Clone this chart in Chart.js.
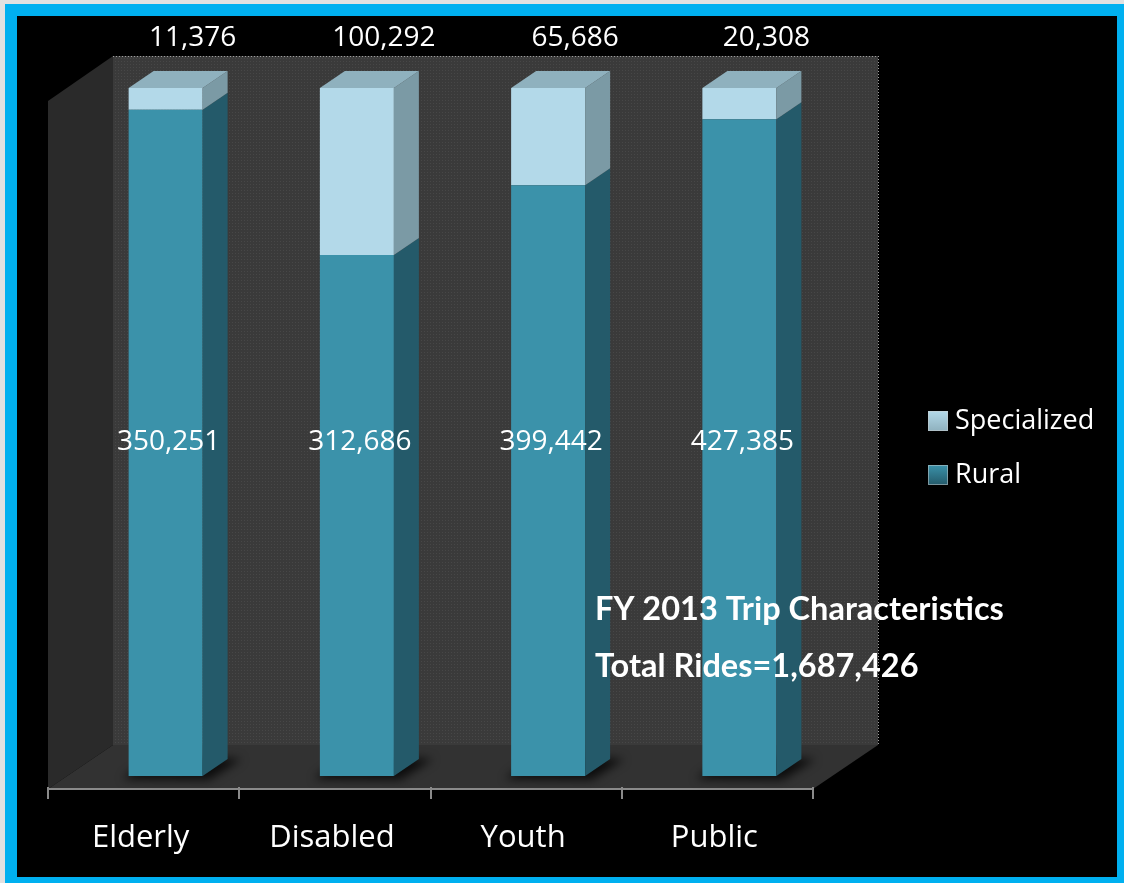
<!DOCTYPE html>
<html><head><meta charset="utf-8">
<script src="https://cdn.jsdelivr.net/npm/chart.js@4.4.1/dist/chart.umd.min.js"></script>
<style>html,body{margin:0;padding:0;background:#e1e1e1;overflow:hidden}canvas{display:block}</style>
</head><body>
<canvas id="c" width="1124" height="883"></canvas>
<script>
// ---- data ----
const categories = ['Elderly', 'Disabled', 'Youth', 'Public'];
const ruralRides = [350251, 312686, 399442, 427385];
const specializedRides = [11376, 100292, 65686, 20308];
const seriesNames = ['Rural', 'Specialized'];
const titleText = 'FY 2013 Trip Characteristics';
const totalPrefix = 'Total Rides=';

// ---- derived (100% stacked) ----
const totals = categories.map((c, i) => ruralRides[i] + specializedRides[i]);
const ruralPct = ruralRides.map((v, i) => v / totals[i] * 100);
const specPct = specializedRides.map((v, i) => v / totals[i] * 100);
const grandTotal = totals.reduce((a, b) => a + b, 0);
const fmt = n => n.toLocaleString('en-US');

// ---- style ----
const COL = {
  ruralFront: '#3b92aa', ruralSide: '#245a6a',
  specFront: '#b3d9e9', specSide: '#7b9aa5', specTop: '#8fb1be'
};
const DEPTH = {dx: 25, dy: -17};   // bar depth projection
const FRONT = {dx: -22, dy: 13};   // bar plane -> front axis plane
const WALL = {dx: 65, dy: -44};    // front plane -> back wall

function poly(ctx, pts, fill) {
  ctx.beginPath();
  ctx.moveTo(pts[0][0], pts[0][1]);
  for (let i = 1; i < pts.length; i++) ctx.lineTo(pts[i][0], pts[i][1]);
  ctx.closePath();
  ctx.fillStyle = fill;
  ctx.fill();
}

let wallPattern = null;
function getPattern(ctx) {
  if (wallPattern) return wallPattern;
  const t = document.createElement('canvas');
  t.width = 3; t.height = 3;
  const g = t.getContext('2d');
  g.fillStyle = '#3a3a3a'; g.fillRect(0, 0, 3, 3);
  g.fillStyle = '#474747'; g.fillRect(1, 1, 1, 1);
  wallPattern = ctx.createPattern(t, 'repeat');
  return wallPattern;
}

function barGeom(el) {
  const p = el.getProps(['x', 'y', 'base', 'width'], true);
  return {
    left: p.x - p.width / 2, right: p.x + p.width / 2, x: p.x,
    top: Math.min(p.y, p.base), bottom: Math.max(p.y, p.base)
  };
}

const scenePlugin = {
  id: 'scene',
  beforeDraw(chart) {
    const {ctx, chartArea: ca} = chart;
    const W = chart.width, H = chart.height;
    ctx.save();
    ctx.fillStyle = '#e1e1e1'; ctx.fillRect(0, 0, W, H);
    ctx.fillStyle = '#00b0f0'; ctx.fillRect(5, 4, W - 5, H - 4);
    ctx.fillStyle = '#000'; ctx.fillRect(17, 16, W - 24, H - 22);

    const fl = ca.left + FRONT.dx, fr = ca.right + FRONT.dx;
    const ft = ca.top + FRONT.dy, fb = ca.bottom + FRONT.dy;
    const bl = fl + WALL.dx, br = fr + WALL.dx, bt = ft + WALL.dy - 1, bb = fb + WALL.dy;

    poly(ctx, [[fl, ft], [bl, bt], [bl, bb], [fl, fb]], '#2a2a2a');
    ctx.fillStyle = getPattern(ctx);
    ctx.fillRect(bl, bt, br - bl, bb - bt);
    poly(ctx, [[fl, fb], [bl, bb], [br, bb], [fr, fb]], '#323232');

    // dotted back-wall border
    ctx.strokeStyle = '#a0a0a0'; ctx.lineWidth = 1;
    ctx.setLineDash([1, 2]);
    ctx.beginPath();
    ctx.moveTo(bl, bt + 0.5); ctx.lineTo(br, bt + 0.5);
    ctx.moveTo(br + 0.5, bt); ctx.lineTo(br + 0.5, bb);
    ctx.stroke();
    ctx.setLineDash([]);

    // front axis line and ticks
    const xs = chart.scales.x;
    const n = categories.length;
    const cw = (ca.right - ca.left) / n;
    ctx.strokeStyle = '#8a8a8a'; ctx.lineWidth = 2;
    ctx.beginPath();
    ctx.moveTo(fl, fb); ctx.lineTo(fr, fb);
    for (let i = 0; i <= n; i++) {
      const x = Math.round(xs.getPixelForValue(0) - cw / 2 + i * cw + FRONT.dx);
      ctx.moveTo(x, fb - 2); ctx.lineTo(x, fb + 10);
    }
    ctx.stroke();
    ctx.restore();
  },
  beforeDatasetsDraw(chart) {
    const {ctx} = chart;
    const meta = chart.getDatasetMeta(0);
    ctx.save();
    ctx.filter = 'blur(5px)';
    meta.data.forEach(el => {
      const g = barGeom(el);
      poly(ctx, [[g.left - 6, g.bottom + 3], [g.right + 6, g.bottom + 4],
        [g.right + DEPTH.dx + 14, g.bottom + DEPTH.dy], [g.left + DEPTH.dx, g.bottom + DEPTH.dy - 4]],
        'rgba(0,0,0,0.75)');
    });
    ctx.restore();
  },
  afterDatasetsDraw(chart) {
    const {ctx, chartArea: ca} = chart;
    ctx.save();
    const sides = [COL.ruralSide, COL.specSide];
    chart.data.datasets.forEach((ds, di) => {
      const meta = chart.getDatasetMeta(di);
      meta.data.forEach(el => {
        const g = barGeom(el);
        poly(ctx, [[g.right, g.top], [g.right + DEPTH.dx, g.top + DEPTH.dy],
          [g.right + DEPTH.dx, g.bottom + DEPTH.dy], [g.right, g.bottom]], sides[di]);
        if (di === chart.data.datasets.length - 1) {
          poly(ctx, [[g.left, g.top], [g.left + DEPTH.dx, g.top + DEPTH.dy],
            [g.right + DEPTH.dx, g.top + DEPTH.dy], [g.right, g.top]], COL.specTop);
        }
      });
    });

    // data labels
    ctx.fillStyle = '#ffffff';
    ctx.font = '28px "Open Sans"';
    ctx.textAlign = 'center';
    ctx.textBaseline = 'middle';
    const m0 = chart.getDatasetMeta(0), m1 = chart.getDatasetMeta(1);
    m0.data.forEach((el, i) => {
      const g = barGeom(el);
      ctx.fillText(fmt(ruralRides[i]), g.x + 3, (ca.top + ca.bottom) / 2 + 10);
    });
    m1.data.forEach((el, i) => {
      const g = barGeom(el);
      ctx.fillText(fmt(specializedRides[i]), g.x + 27, ca.top - 50);
    });
    ctx.restore();
  },
  afterDraw(chart) {
    const {ctx, chartArea: ca} = chart;
    ctx.save();
    // legend (Specialized first, then Rural)
    const items = [[seriesNames[1], COL.specFront, COL.specTop], [seriesNames[0], COL.ruralFront, COL.ruralSide]];
    const lx = ca.right + 93, yc = 448;
    ctx.font = '27px "Open Sans"';
    ctx.textBaseline = 'middle';
    ctx.textAlign = 'left';
    items.forEach((it, k) => {
      const y = yc - 27 + k * 54;
      const gr = ctx.createLinearGradient(lx, y - 10, lx, y + 10);
      gr.addColorStop(0, it[1]); gr.addColorStop(1, it[2]);
      ctx.fillStyle = gr;
      ctx.fillRect(lx, y - 10, 20, 20);
      ctx.strokeStyle = '#cfcfcf'; ctx.setLineDash([1, 1]); ctx.lineWidth = 1;
      ctx.strokeRect(lx + 0.5, y - 9.5, 19, 19);
      ctx.setLineDash([]);
      ctx.fillStyle = '#ffffff';
      ctx.fillText(it[0], lx + 27, y);
    });

    // title block
    const line2 = totalPrefix + fmt(grandTotal);
    ctx.font = 'bold 30px Lato';
    const w1 = ctx.measureText(titleText).width;
    const w2 = ctx.measureText(line2).width;
    const size = 30 * (416 / w1 + 318 / w2) / 2;
    ctx.font = 'bold ' + size.toFixed(2) + 'px Lato';
    ctx.textBaseline = 'alphabetic';
    ctx.fillStyle = '#ffffff';
    const tx = ca.left + 525;
    ctx.fillText(titleText, tx, 620);
    ctx.fillText(line2, tx, 677);
    ctx.restore();
  }
};

new Chart(document.getElementById('c'), {
  type: 'bar',
  data: {
    labels: categories,
    datasets: [
      {label: seriesNames[0], data: ruralPct, backgroundColor: COL.ruralFront, borderWidth: 0},
      {label: seriesNames[1], data: specPct, backgroundColor: COL.specFront, borderWidth: 0}
    ]
  },
  options: {
    responsive: false,
    animation: false,
    events: [],
    devicePixelRatio: 1,
    layout: {padding: {left: 70, right: 289, top: 88, bottom: 0}},
    datasets: {bar: {barPercentage: 0.387, categoryPercentage: 1}},
    scales: {
      x: {
        stacked: true,
        grid: {display: false, drawTicks: false},
        border: {display: false},
        ticks: {color: '#ffffff', font: {family: '"Open Sans"', size: 31}, labelOffset: -25, padding: 44},
        afterFit(s) { s.height = 107; }
      },
      y: {stacked: true, display: false, min: 0, max: 100}
    },
    plugins: {legend: {display: false}, tooltip: {enabled: false}}
  },
  plugins: [scenePlugin]
});
</script>
</body></html>
